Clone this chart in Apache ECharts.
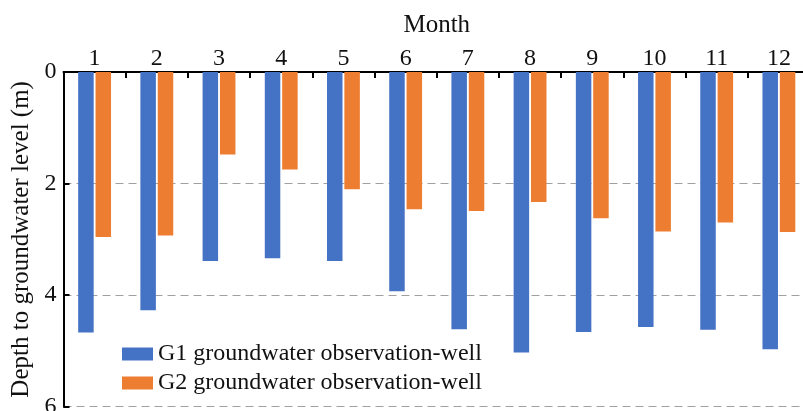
<!DOCTYPE html>
<html>
<head>
<meta charset="utf-8">
<style>
  html, body { margin: 0; padding: 0; background: #fff; }
  #chart { width: 803px; height: 411px; }
</style>
<script src="https://cdn.jsdelivr.net/npm/echarts@6/dist/echarts.min.js"></script>
</head>
<body>
<div id="chart"></div>
<script>
// Monthly depth to groundwater level (m) at two observation wells
const months = ['1', '2', '3', '4', '5', '6', '7', '8', '9', '10', '11', '12'];
const g1Depth = [4.67, 4.27, 3.39, 3.34, 3.39, 3.93, 4.61, 5.03, 4.66, 4.57, 4.62, 4.97];
const g2Depth = [2.96, 2.93, 1.48, 1.75, 2.10, 2.46, 2.49, 2.33, 2.62, 2.86, 2.70, 2.87];
const depthTicks = [0, 2, 4, 6];

const serif = '"Liberation Serif", "Times New Roman", serif';
const chart = echarts.init(document.getElementById('chart'), null, { renderer: 'canvas' });

chart.setOption({
  animation: false,
  backgroundColor: '#ffffff',
  textStyle: { fontFamily: serif, color: '#111' },
  grid: {
    left: 63.5, right: -7, top: 72, bottom: 4.3,
    containLabel: false,
    outerBoundsMode: 'none'
  },
  legend: {
    orient: 'vertical',
    left: 117,
    top: 337,
    icon: 'rect',
    itemWidth: 31,
    itemHeight: 13,
    itemGap: 5,
    textStyle: { fontFamily: serif, fontSize: 24, color: '#111' },
    data: ['G1 groundwater observation-well', 'G2 groundwater observation-well']
  },
  xAxis: {
    type: 'category',
    position: 'top',
    data: months,
    name: 'Month',
    nameLocation: 'middle',
    nameGap: 34,
    nameTextStyle: { fontFamily: serif, fontSize: 25, color: '#111' },
    axisLine: { show: true, lineStyle: { color: '#000', width: 2 } },
    axisTick: { show: true, inside: true, length: 6, interval: 0, lineStyle: { color: '#000', width: 2 } },
    axisLabel: { fontFamily: serif, fontSize: 24, color: '#111', margin: 1, interval: 0 },
    splitLine: { show: false }
  },
  yAxis: {
    type: 'value',
    inverse: true,
    min: depthTicks[0],
    max: depthTicks[depthTicks.length - 1],
    interval: 2,
    name: 'Depth to groundwater level (m)',
    nameLocation: 'middle',
    nameGap: 19,
    nameRotate: 90,
    nameTextStyle: { fontFamily: serif, fontSize: 25, color: '#111' },
    axisLine: { show: true, lineStyle: { color: '#000', width: 2 } },
    axisTick: { show: true, inside: true, length: 6, lineStyle: { color: '#000', width: 2 } },
    axisLabel: { fontFamily: serif, fontSize: 24, color: '#111', margin: 7 },
    splitLine: { show: true, lineStyle: { color: '#a0a0a0', width: 1, type: [8, 5] } }
  },
  series: [
    {
      name: 'G1 groundwater observation-well',
      type: 'bar',
      data: g1Depth,
      barWidth: 15.5,
      barGap: '12%',
      itemStyle: { color: '#4472C4' }
    },
    {
      name: 'G2 groundwater observation-well',
      type: 'bar',
      data: g2Depth,
      barWidth: 15.5,
      barGap: '12%',
      itemStyle: { color: '#ED7D31' }
    }
  ]
});
</script>
</body>
</html>
